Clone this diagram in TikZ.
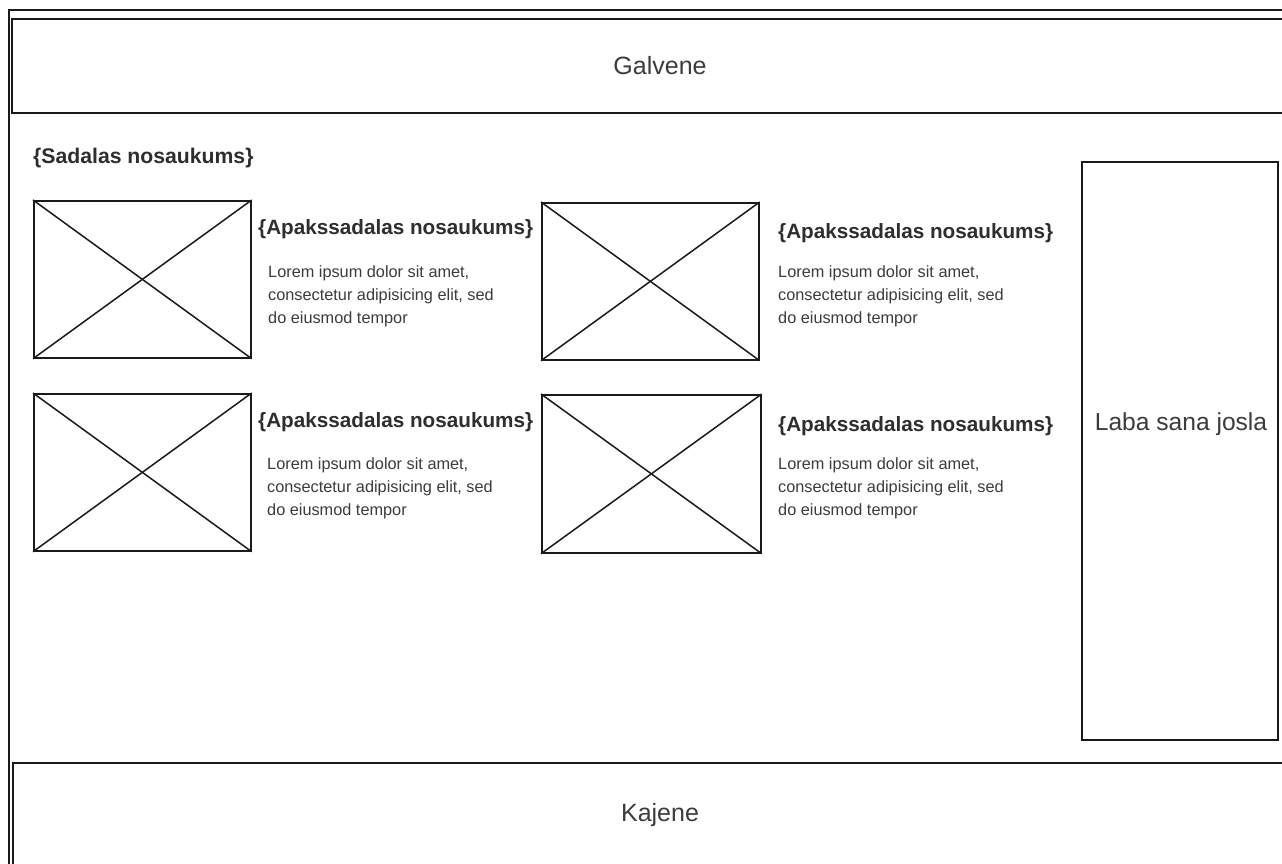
\documentclass[tikz,border=0pt]{standalone}
\usepackage{fontspec}
\setmainfont{Liberation Sans}
\definecolor{ln}{HTML}{1A1A1A}
\definecolor{tx}{HTML}{2E2E2E}
\definecolor{bx}{HTML}{3C3C3C}
\begin{document}
\begin{tikzpicture}[x=1pt,y=-1pt,
  frame/.style={draw=ln,line width=1.8pt,rectangle,inner sep=0pt,anchor=north west},
  ph/.style={draw=ln,line width=1.7pt,rectangle,inner sep=0pt,anchor=north west,minimum width=217pt,minimum height=157pt},
  cross/.style={draw=ln,line width=1.5pt},
  big/.style={text=bx,font=\fontsize{25}{29}\selectfont,inner sep=0pt},
  ttl/.style={text=tx,font=\bfseries\fontsize{20.7}{24}\selectfont,anchor=base west,inner sep=0pt},
  body/.style={text=bx,font=\fontsize{16.3}{23}\selectfont,align=left,anchor=north west,inner sep=0pt}]
\useasboundingbox (0,0) rectangle (1282,864);
\fill[white] (0,0) rectangle (1282,864);
\clip (0,0) rectangle (1282,864);
% outer frame
\node[frame,minimum width=1290pt,minimum height=870pt] (outer) at (8,9) {};
% header / footer / sidebar
\node[frame,minimum width=1290pt,minimum height=94pt] (head) at (11,18) {};
\node[frame,minimum width=1290pt,minimum height=120pt] (foot) at (12,762) {};
\node[frame,minimum width=196pt,minimum height=578pt] (side) at (1081,161) {};
\node[big] (galv) at (660,66) {Galvene};
\node[big] (kaj) at (660,815) {Kajene};
\node[big,font=\fontsize{24.6}{29}\selectfont] (laba) at (1181,424) {Laba sana josla};
% section title
\node[ttl,font=\bfseries\fontsize{21.2}{25}\selectfont] (sad) at (33,164) {\{Sadalas nosaukums\}};
% placeholders
\node[ph] (p1) at (33,200) {};
\node[ph] (p2) at (541,202) {};
\node[ph] (p3) at (33,393) {};
\node[ph,minimum width=219pt,minimum height=158pt] (p4) at (541,394) {};
\foreach \p in {p1,p2,p3,p4}{
  \draw[cross] (\p.north west) -- (\p.south east);
  \draw[cross] (\p.south west) -- (\p.north east);
}
% titles
\node[ttl] (t1) at (258,234) {\{Apakssadalas nosaukums\}};
\node[ttl] (t2) at (778,238) {\{Apakssadalas nosaukums\}};
\node[ttl] (t3) at (258,427) {\{Apakssadalas nosaukums\}};
\node[ttl] (t4) at (778,431) {\{Apakssadalas nosaukums\}};
% bodies
\node[body] (b1) at (268,265) {Lorem ipsum dolor sit amet,\\consectetur adipisicing elit, sed\\do eiusmod tempor};
\node[body] (b2) at (778,265) {Lorem ipsum dolor sit amet,\\consectetur adipisicing elit, sed\\do eiusmod tempor};
\node[body] (b3) at (267,457) {Lorem ipsum dolor sit amet,\\consectetur adipisicing elit, sed\\do eiusmod tempor};
\node[body] (b4) at (778,457) {Lorem ipsum dolor sit amet,\\consectetur adipisicing elit, sed\\do eiusmod tempor};
\end{tikzpicture}
\end{document}
